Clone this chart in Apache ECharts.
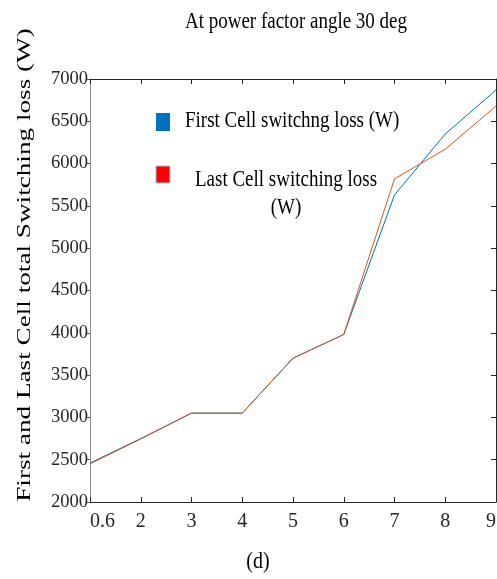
<!DOCTYPE html>
<html>
<head>
<meta charset="utf-8">
<style>
  html, body { margin: 0; padding: 0; background: #ffffff; }
  #chart { width: 497px; height: 579px; }
</style>
<script src="https://cdn.jsdelivr.net/npm/echarts@6/dist/echarts.min.js"></script>
</head>
<body>
<div id="chart"></div>
<script>
// Modulation index steps shown on the horizontal axis
const categories = ['0.6', '2', '3', '4', '5', '6', '7', '8', '9'];

// Total switching loss in watts
const firstCellLoss = [2460, 2750, 3050, 3050, 3700, 3980, 5630, 6350, 6870];
const lastCellLoss  = [2450, 2745, 3050, 3050, 3700, 3980, 5820, 6170, 6680];

// Vertical axis range and step
const yMin = 2000;
const yMax = 7000;
const yStep = 500;

// Text drawn on the figure
const titleText = 'At power factor angle 30 deg';
const yTitleText = 'First and Last Cell total Switching loss (W)';
const xTitleText = '(d)';
const firstName = 'First Cell switchng loss (W)';
const lastNameLine1 = 'Last Cell switching loss';
const lastNameLine2 = '(W)';

const SERIF = '"Liberation Serif", "Times New Roman", "DejaVu Serif", serif';
const INK = '#262626';
const BLUE = '#0072BD';
const ORANGE = '#D95319';

const chart = echarts.init(document.getElementById('chart'), null, { renderer: 'canvas' });

function serifText(text, x, y, opts) {
  return Object.assign({
    type: 'text',
    x: x,
    y: y,
    silent: true,
    style: {
      text: text,
      fontFamily: SERIF,
      fontSize: 19,
      fill: '#000000',
      align: 'center',
      verticalAlign: 'middle'
    }
  }, opts || {});
}

const option = {
  animation: false,
  backgroundColor: '#ffffff',
  grid: { left: 90, right: 1, top: 79, bottom: 77, containLabel: false, outerBoundsMode: 'none' },
  xAxis: [
    {
      type: 'category',
      data: categories,
      boundaryGap: false,
      position: 'bottom',
      axisLine: { show: true, lineStyle: { color: INK, width: 1 } },
      axisTick: { show: true, inside: true, length: 5, interval: 0, lineStyle: { color: INK } },
      axisLabel: {
        fontFamily: SERIF, fontSize: 20, color: INK, margin: 10, interval: 0,
        showMinLabel: true, showMaxLabel: true,
        alignMinLabel: 'left', alignMaxLabel: 'right'
      },
      splitLine: { show: false }
    },
    {
      type: 'category',
      data: categories,
      boundaryGap: false,
      position: 'top',
      axisLine: { show: true, lineStyle: { color: INK, width: 1 } },
      axisTick: { show: true, inside: true, length: 5, interval: 0, lineStyle: { color: INK } },
      axisLabel: { show: false },
      splitLine: { show: false }
    }
  ],
  yAxis: [
    {
      type: 'value',
      min: yMin, max: yMax, interval: yStep,
      position: 'left',
      axisLine: { show: true, lineStyle: { color: '#8c8c8c', width: 1 } },
      axisTick: { show: true, inside: false, length: 4, lineStyle: { color: '#595959' } },
      axisLabel: { fontFamily: SERIF, fontSize: 18.5, color: INK, margin: 2, formatter: function (v) { return String(v); } },
      splitLine: { show: false }
    },
    {
      type: 'value',
      min: yMin, max: yMax, interval: yStep,
      position: 'right',
      axisLine: { show: true, lineStyle: { color: INK, width: 1 } },
      axisTick: { show: true, inside: true, length: 5, lineStyle: { color: INK } },
      axisLabel: { show: false },
      splitLine: { show: false }
    }
  ],
  series: [
    {
      name: firstName,
      type: 'line',
      data: firstCellLoss,
      symbol: 'none',
      showSymbol: false,
      lineStyle: { color: BLUE, width: 1 },
      itemStyle: { color: BLUE },
      z: 2
    },
    {
      name: lastNameLine1 + ' ' + lastNameLine2,
      type: 'line',
      data: lastCellLoss,
      symbol: 'none',
      showSymbol: false,
      lineStyle: { color: ORANGE, width: 1 },
      itemStyle: { color: ORANGE },
      z: 3
    }
  ],
  graphic: [
    // figure title
    serifText(titleText, 296, 22, { scaleY: 1.2 }),
    // vertical axis title, stretched along its length
    serifText(yTitleText, 25, 265, { rotation: Math.PI / 2, scaleX: 1.47, style: {
      text: yTitleText, fontFamily: SERIF, fontSize: 18.5, fill: '#000000', align: 'center', verticalAlign: 'middle'
    } }),
    // horizontal axis caption
    serifText(xTitleText, 258, 562, { scaleY: 1.2, style: {
      text: xTitleText, fontFamily: SERIF, fontSize: 20, fill: '#000000', align: 'center', verticalAlign: 'middle'
    } }),
    // legend swatches
    { type: 'rect', shape: { x: 156, y: 113, width: 14, height: 18 }, style: { fill: '#0070C0' }, silent: true },
    { type: 'rect', shape: { x: 156, y: 166, width: 14, height: 17 }, style: { fill: '#FF0000', stroke: '#9DC3E6', lineWidth: 1 }, silent: true },
    // legend labels
    serifText(firstName, 185, 121, { scaleY: 1.2, style: {
      text: firstName, fontFamily: SERIF, fontSize: 19, fill: '#000000', align: 'left', verticalAlign: 'middle'
    } }),
    serifText(lastNameLine1, 286, 180, { scaleY: 1.2 }),
    serifText(lastNameLine2, 286, 208, { scaleY: 1.2 })
  ]
};

chart.setOption(option);
</script>
</body>
</html>
